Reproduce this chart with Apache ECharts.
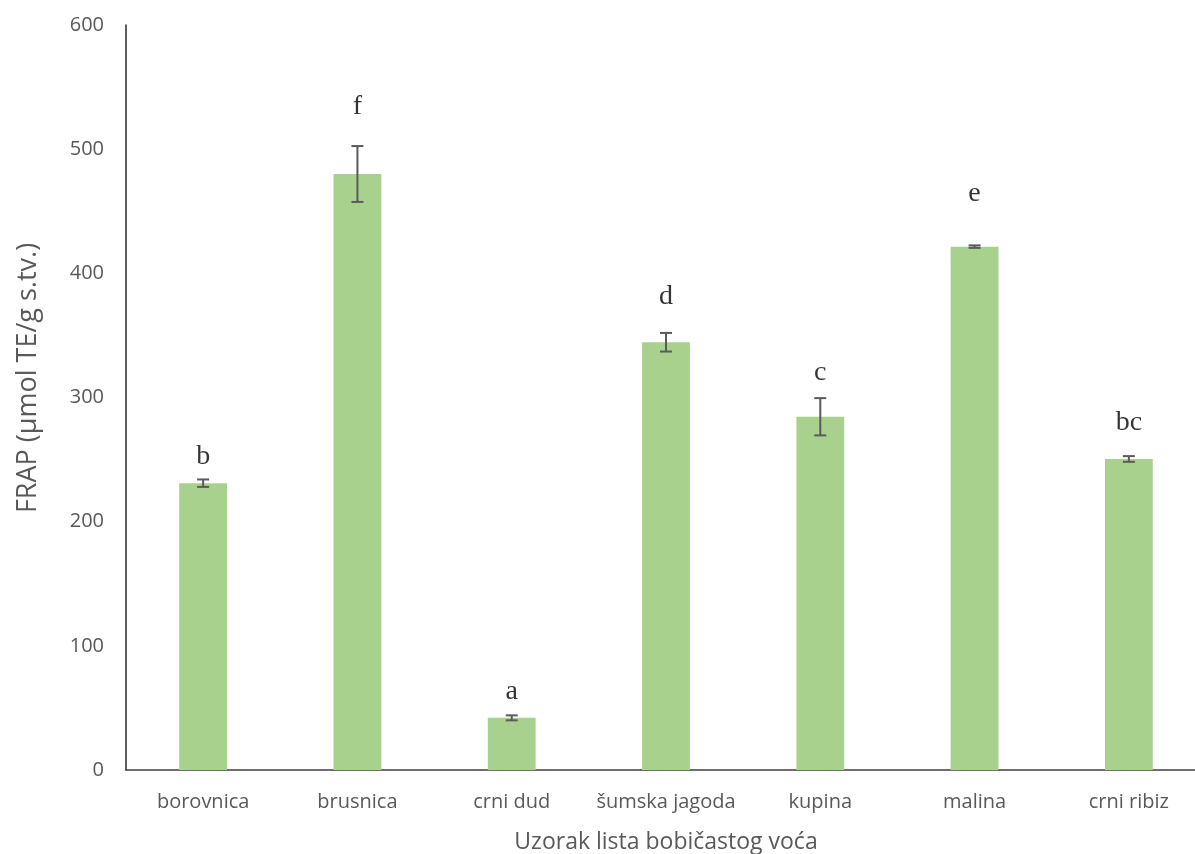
<!DOCTYPE html>
<html>
<head>
<meta charset="utf-8">
<script src="https://cdn.jsdelivr.net/npm/echarts@6/dist/echarts.min.js"></script>
<style>html,body{margin:0;padding:0;background:#fff;overflow:hidden;}#c{width:1195px;height:854px;}</style>
</head>
<body>
<div id="c"></div>
<script>
var categories = ['borovnica', 'brusnica', 'crni dud', 'šumska jagoda', 'kupina', 'malina', 'crni ribiz'];
var values = [231, 480, 42, 344.5, 284.5, 421.5, 250.5];
var errors = [3, 22.5, 2, 7.5, 15, 1, 2.3];
var letters = ['b', 'f', 'a', 'd', 'c', 'e', 'bc'];
var letterY = [252, 534, 63, 381, 320, 464, 280];
var yTicks = [0, 100, 200, 300, 400, 500, 600];
var xTitle = 'Uzorak lista bobičastog voća';
var yTitle = 'FRAP (µmol TE/g s.tv.)';

var chart = echarts.init(document.getElementById('c'), null, {renderer: 'canvas'});
var option = {
  animation: false,
  backgroundColor: '#ffffff',
  grid: {left: 126, top: 25, width: 1080, height: 745, containLabel: false, outerBoundsMode: 'none'},
  graphic: [{
    type: 'text',
    x: 28, y: 378,
    rotation: Math.PI / 2,
    style: {text: yTitle, fill: '#595959', font: '27px "Open Sans"', align: 'center', verticalAlign: 'middle'}
  }],
  xAxis: {
    type: 'category',
    data: categories,
    axisLine: {show: true, lineStyle: {color: '#404040', width: 1.5}},
    axisTick: {show: false},
    axisLabel: {color: '#595959', fontFamily: 'Open Sans', fontSize: 20, margin: 22, interval: 0},
    name: xTitle,
    nameLocation: 'middle',
    nameGap: 61,
    nameTextStyle: {color: '#595959', fontFamily: 'Open Sans', fontSize: 23}
  },
  yAxis: {
    type: 'value',
    min: yTicks[0],
    max: yTicks[yTicks.length - 1],
    interval: 100,
    axisLine: {show: true, lineStyle: {color: '#262626', width: 1.5}},
    axisTick: {show: false},
    splitLine: {show: false},
    axisLabel: {color: '#595959', fontFamily: 'Open Sans', fontSize: 20, margin: 22}
  },
  series: [
    {
      type: 'bar',
      data: values,
      barWidth: '31%',
      itemStyle: {color: '#a9d18e'}
    },
    {
      type: 'custom',
      data: values.map(function (v, i) { return [i, v - errors[i], v + errors[i]]; }),
      renderItem: function (params, api) {
        var lo = api.coord([api.value(0), api.value(1)]);
        var hi = api.coord([api.value(0), api.value(2)]);
        var hw = 6;
        var st = {stroke: '#5a5a5a', lineWidth: 2};
        return {
          type: 'group',
          children: [
            {type: 'line', shape: {x1: lo[0], y1: lo[1], x2: hi[0], y2: hi[1]}, style: st},
            {type: 'line', shape: {x1: lo[0] - hw, y1: lo[1], x2: lo[0] + hw, y2: lo[1]}, style: st},
            {type: 'line', shape: {x1: hi[0] - hw, y1: hi[1], x2: hi[0] + hw, y2: hi[1]}, style: st}
          ]
        };
      },
      z: 5
    },
    {
      type: 'scatter',
      symbolSize: 0,
      data: letterY.map(function (y, i) { return [i, y]; }),
      label: {
        show: true,
        position: 'inside',
        formatter: function (p) { return letters[p.dataIndex]; },
        color: '#000000',
        fontFamily: 'Liberation Serif',
        fontSize: 28
      },
      z: 6
    }
  ]
};
chart.setOption(option);
</script>
</body>
</html>
